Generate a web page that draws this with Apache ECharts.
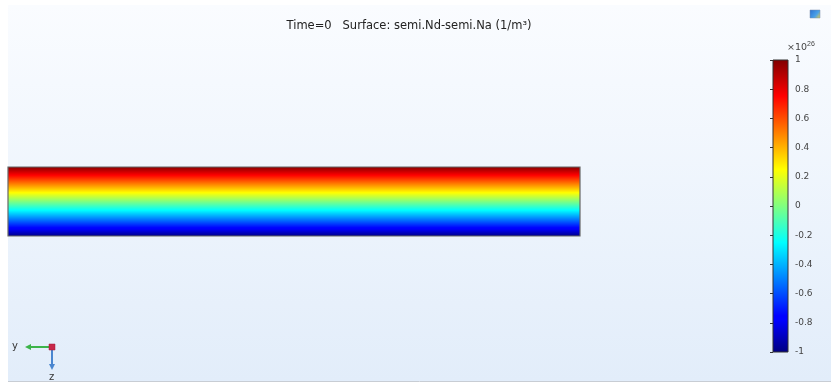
<!DOCTYPE html>
<html>
<head>
<meta charset="utf-8">
<script src="https://cdn.jsdelivr.net/npm/echarts@6/dist/echarts.min.js"></script>
<style>html,body{margin:0;padding:0;background:#fff}#c{width:831px;height:383px}</style>
</head>
<body>
<div id="c"></div>
<script>
// ---- data ----
const titleText = 'Time=0   Surface: semi.Nd-semi.Na (1/m\u00B3)';
const domainX = [0, 50];          // device length
const domainZ = [0, 6];           // device thickness
const surfaceTopBottom = [1, -1]; // field value at top / bottom edge (x10^26 1/m^3)
const colorRange = [-1, 1];
const colorTickStep = 0.2;
const colorExponent = '26';
// jet-like colour table (value, colour)
const cmapValues = [-1, -0.78, -0.75, -0.25, 0, 0.25, 0.75, 1];
const cmapColors = ['#000080', '#0000ff', '#0000ff', '#00ffff', '#80ff80', '#ffff00', '#ff0000', '#800000'];

function gradientStops(vTop, vBottom) {
  const stops = [];
  for (let i = cmapValues.length - 1; i >= 0; i--) {
    const v = cmapValues[i];
    const off = (vTop - v) / (vTop - vBottom);
    if (off >= 0 && off <= 1) stops.push({ offset: off, color: cmapColors[i] });
  }
  return stops;
}

const chart = echarts.init(document.getElementById('c'), null, { renderer: 'canvas' });

const option = {
  backgroundColor: '#ffffff',
  animation: false,
  title: {
    text: titleText,
    left: 404, top: 15,
    textAlign: 'center',
    textStyle: { fontFamily: 'DejaVu Sans', fontSize: 11.5, fontWeight: 'normal', color: '#222' }
  },
  graphic: [
    { type: 'rect', z: -10, silent: true,
      shape: { x: 8, y: 5, width: 823, height: 376 },
      style: { fill: new echarts.graphic.LinearGradient(0, 0, 0, 1, [
        { offset: 0, color: '#fafcff' }, { offset: 1, color: '#e2edfa' }]) } },
    { type: 'line', z: -9, silent: true, shape: { x1: 8, y1: 381.5, x2: 831, y2: 381.5 },
      style: { stroke: '#c8cdd4', lineWidth: 1 } },
    // toolbar icon
    { type: 'rect', shape: { x: 810, y: 10, width: 10, height: 8 },
      style: { fill: new echarts.graphic.LinearGradient(0, 0, 1, 1, [
        { offset: 0, color: '#2a6fd0' }, { offset: 0.6, color: '#4aa0e8' }, { offset: 1, color: '#f0d040' }]), stroke: '#7a8ca8', lineWidth: 0.5 } },
    // colour-bar exponent
    { type: 'text', style: { x: 787, y: 41, text: '\u00D710{sup|' + colorExponent + '}', fontSize: 9.5, fontFamily: 'DejaVu Sans', fill: '#444',
        rich: { sup: { fontSize: 7, fill: '#444', verticalAlign: 'top', padding: [0, 0, 6, 0] } } } },
    // axis triad
    { type: 'line', shape: { x1: 51, y1: 347, x2: 30, y2: 347 }, style: { stroke: '#3cb44a', lineWidth: 2 } },
    { type: 'polygon', shape: { points: [[25, 347], [31, 344], [31, 350]] }, style: { fill: '#3cb44a' } },
    { type: 'line', shape: { x1: 52, y1: 348, x2: 52, y2: 365 }, style: { stroke: '#4a86d0', lineWidth: 2 } },
    { type: 'polygon', shape: { points: [[52, 370], [49, 364], [55, 364]] }, style: { fill: '#4a86d0' } },
    { type: 'rect', shape: { x: 49, y: 344, width: 6, height: 6 }, style: { fill: '#c8284a', stroke: '#a01838', lineWidth: 0.5 } },
    { type: 'text', style: { x: 12, y: 341, text: 'y', fontSize: 10, fontFamily: 'DejaVu Sans', fill: '#333' } },
    { type: 'text', style: { x: 49, y: 372, text: 'z', fontSize: 10, fontFamily: 'DejaVu Sans', fill: '#333' } }
  ],
  grid: [
    { left: 8, top: 167, width: 572, height: 69, containLabel: false },
    { left: 773, top: 60, width: 15, height: 292, containLabel: false }
  ],
  xAxis: [
    { gridIndex: 0, type: 'value', min: domainX[0], max: domainX[1], show: false },
    { gridIndex: 1, type: 'value', min: 0, max: 1, show: false }
  ],
  yAxis: [
    { gridIndex: 0, type: 'value', min: domainZ[0], max: domainZ[1], show: false },
    { gridIndex: 1, type: 'value', position: 'right',
      min: colorRange[0], max: colorRange[1], interval: colorTickStep,
      splitLine: { show: false },
      axisLine: { show: false },
      axisTick: { show: true, inside: true, length: 3, lineStyle: { color: '#333', width: 1 } },
      axisLabel: { margin: 7, fontSize: 9, fontFamily: 'DejaVu Sans', color: '#444',
        formatter: v => String(Math.round(v * 10) / 10) }
    }
  ],
  series: [
    {
      type: 'custom', xAxisIndex: 0, yAxisIndex: 0, silent: true,
      data: [[domainX[0], domainX[1], domainZ[1], domainZ[0], surfaceTopBottom[0], surfaceTopBottom[1]]],
      renderItem: function (params, api) {
        const p1 = api.coord([api.value(0), api.value(2)]);
        const p2 = api.coord([api.value(1), api.value(3)]);
        return {
          type: 'rect',
          shape: { x: p1[0], y: p1[1], width: p2[0] - p1[0], height: p2[1] - p1[1] },
          style: { fill: new echarts.graphic.LinearGradient(0, 0, 0, 1, gradientStops(api.value(4), api.value(5))),
                   stroke: '#666', lineWidth: 1.2 }
        };
      }
    },
    {
      type: 'custom', xAxisIndex: 1, yAxisIndex: 1, silent: true,
      data: [[0, 1, colorRange[1], colorRange[0]]],
      renderItem: function (params, api) {
        const p1 = api.coord([api.value(0), api.value(2)]);
        const p2 = api.coord([api.value(1), api.value(3)]);
        return {
          type: 'rect',
          shape: { x: p1[0], y: p1[1], width: p2[0] - p1[0], height: p2[1] - p1[1] },
          style: { fill: new echarts.graphic.LinearGradient(0, 0, 0, 1, gradientStops(api.value(2), api.value(3))),
                   stroke: '#333', lineWidth: 1 }
        };
      }
    }
  ]
};
chart.setOption(option);
</script>
</body>
</html>
